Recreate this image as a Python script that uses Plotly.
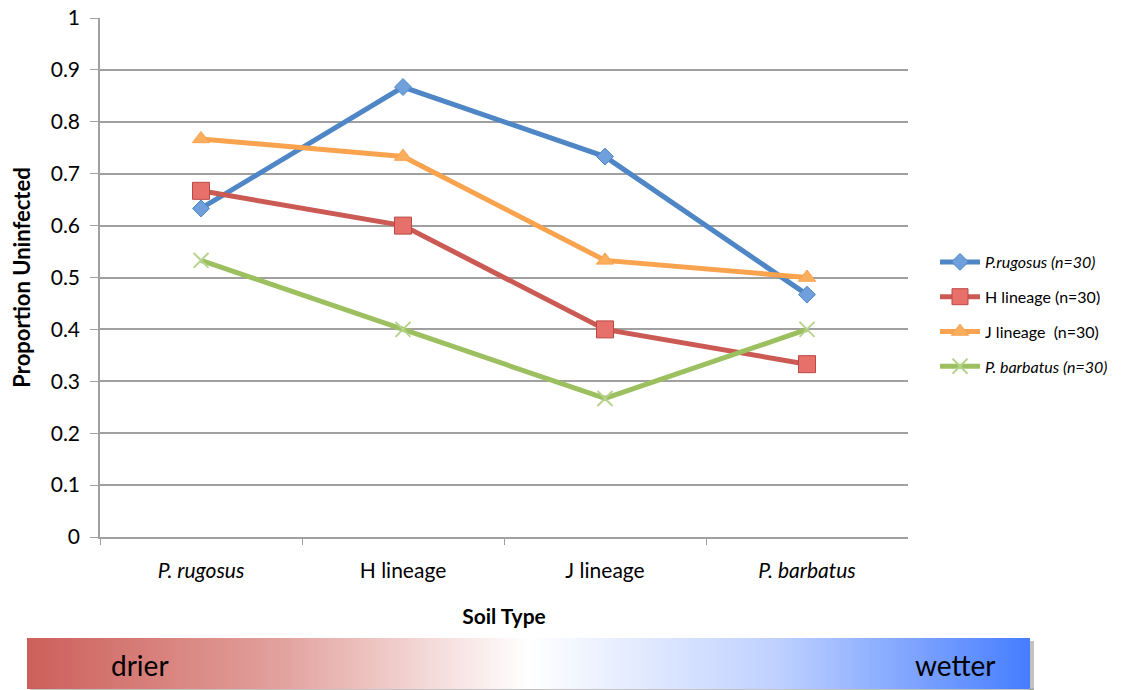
import numpy as np
import plotly.graph_objects as go

W, H = 1127, 690

# Soil types along the x axis
soil_types = ["<i>P. rugosus</i>", "H lineage", "J lineage", "<i>P. barbatus</i>"]

# Proportion of plants uninfected for each ant colony source
rugosus = [0.633, 0.867, 0.733, 0.467]
h_lineage = [0.667, 0.600, 0.400, 0.333]
j_lineage = [0.767, 0.733, 0.533, 0.500]
barbatus = [0.533, 0.400, 0.267, 0.400]

y_ticks = [0, 0.1, 0.2, 0.3, 0.4, 0.5, 0.6, 0.7, 0.8, 0.9, 1]
y_tick_text = ["0", "0.1", "0.2", "0.3", "0.4", "0.5", "0.6", "0.7", "0.8", "0.9", "1"]

FONT = "Lato, 'Open Sans', sans-serif"

series = [
    ("<i>P.rugosus (n=30)</i>", rugosus, "#4F86C6",
     dict(symbol="diamond", size=13, color="#6FA0DC", line=dict(color="#4F86C6", width=1))),
    ("H lineage (n=30)", h_lineage, "#CB5A54",
     dict(symbol="square", size=17, color="#E8706B", line=dict(color="#B84A45", width=1))),
    ("J lineage  (n=30)", j_lineage, "#F9A34E",
     dict(symbol="triangle-up", size=15, color="#FBAE5E", line=dict(color="#F9A34E", width=1))),
    ("<i>P. barbatus (n=30)</i>", barbatus, "#9CC05F",
     dict(symbol="x-thin", size=15, color="#B5D38A", line=dict(color="#B5D38A", width=2))),
]

fig = go.Figure()
for i, (name, vals, col, mk) in enumerate(series):
    fig.add_trace(go.Scatter(
        x=soil_types, y=vals, name=name, mode="lines+markers",
        line=dict(color=col, width=5), marker=mk,
        legendgroup=f"g{i}",
    ))

# Moisture gradient strip under the chart
grad = np.linspace(0, 1, 300)
fig.add_trace(go.Heatmap(
    z=[grad], x=grad, y=[0], xaxis="x2", yaxis="y2", showscale=False,
    hoverinfo="skip",
    colorscale=[[0, "rgb(205,95,90)"], [0.25, "rgb(226,160,156)"],
                [0.5, "rgb(255,255,255)"], [0.75, "rgb(190,208,255)"],
                [1, "rgb(70,125,255)"]],
))

y0 = (H - 537) / H
y1 = (H - 18) / H

fig.update_layout(
    width=W, height=H,
    margin=dict(l=0, r=0, t=0, b=0, autoexpand=False),
    paper_bgcolor="white", plot_bgcolor="white",
    font=dict(family=FONT, color="#000000"),
    showlegend=True,
    legend=dict(x=935 / W, y=(H - 245) / H, xanchor="left", yanchor="top",
                font=dict(size=16, family=FONT), tracegroupgap=11,
                bgcolor="rgba(0,0,0,0)", itemwidth=40),
    xaxis=dict(domain=[100 / W, 908 / W], range=[-0.5, 3.5], type="category",
               tickson="boundaries", ticks="outside", ticklen=6, tickcolor="#A0A0A0",
               showline=True, linecolor="#A0A0A0", linewidth=1.5, showgrid=False,
               tickfont=dict(size=21), ticklabelstandoff=14, automargin=False,
               title=dict(text="<b>Soil Type</b>", font=dict(size=21), standoff=28)),
    yaxis=dict(domain=[y0, y1], range=[0, 1], tickvals=y_ticks, ticktext=y_tick_text,
               ticks="outside", ticklen=8, tickcolor="#A0A0A0",
               showline=True, linecolor="#A0A0A0", linewidth=1.5,
               showgrid=True, gridcolor="#A0A0A0", gridwidth=1.5, zeroline=False,
               tickfont=dict(size=21), ticklabelstandoff=6, automargin=False,
               title=dict(text="<b>Proportion Uninfected</b>", font=dict(size=22), standoff=14)),
    xaxis2=dict(domain=[27 / W, 1030 / W], range=[0, 1], visible=False, anchor="y2"),
    yaxis2=dict(domain=[1 / H, 52 / H], range=[-0.5, 0.5], visible=False, anchor="x2"),
    shapes=[
        dict(type="rect", xref="paper", yref="paper",
             x0=1030 / W, x1=1034 / W, y0=0 / H, y1=49 / H,
             fillcolor="rgba(120,120,120,0.45)", line=dict(width=0), layer="below"),
        dict(type="rect", xref="paper", yref="paper",
             x0=30 / W, x1=1034 / W, y0=0, y1=1.5 / H,
             fillcolor="rgba(120,120,120,0.45)", line=dict(width=0), layer="below"),
    ],
    annotations=[
        dict(text="drier", xref="paper", yref="paper", x=140 / W, y=(H - 665) / H,
             xanchor="center", yanchor="middle",
             showarrow=False, font=dict(size=28, family=FONT)),
        dict(text="wetter", xref="paper", yref="paper", x=955 / W, y=(H - 665) / H,
             xanchor="center", yanchor="middle",
             showarrow=False, font=dict(size=28, family=FONT)),
    ],
)

fig.write_html("out.html")
